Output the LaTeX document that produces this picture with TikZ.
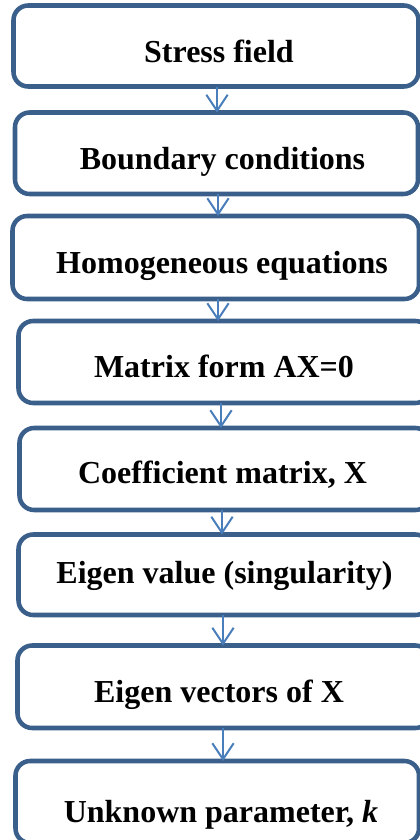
\documentclass[tikz,border=0pt]{standalone}
\usepackage{fontspec}
\setmainfont{Liberation Serif}
\usetikzlibrary{arrows.meta}
\definecolor{boxblue}{HTML}{3A5F8B}
\definecolor{arrblue}{HTML}{4A7EBB}
\tikzset{
  stepbox/.style={draw=boxblue, line width=3.4pt, rounded corners=11pt, fill=white,
    rectangle, inner sep=0pt, outer sep=0pt},
  steptext/.style={anchor=base, inner sep=0pt, font=\fontsize{24}{28}\selectfont\bfseries},
  flow/.style={draw=arrblue, line width=1.5pt, -{Straight Barb[length=12pt,width=16pt,line width=1.5pt]}}
}
\begin{document}
\begin{tikzpicture}[x=0.75pt,y=-0.75pt]
\useasboundingbox (0,0) rectangle (420,840);
\clip (0,0) rectangle (420,840);
\fill[white] (0,0) rectangle (420,840);
% boxes
\node[stepbox, minimum width=405*0.75pt,   minimum height=81*0.75pt]   (b1) at (216,46) {};
\node[stepbox, minimum width=403*0.75pt,   minimum height=81.5*0.75pt] (b2) at (216.5,153.25) {};
\node[stepbox, minimum width=406.5*0.75pt, minimum height=83*0.75pt]   (b3) at (215.75,257.5) {};
\node[stepbox, minimum width=411.5*0.75pt, minimum height=82*0.75pt]   (b4) at (224.25,362) {};
\node[stepbox, minimum width=410.5*0.75pt, minimum height=82*0.75pt]   (b5) at (224.75,469) {};
\node[stepbox, minimum width=411.5*0.75pt, minimum height=80.5*0.75pt] (b6) at (224.25,574.75) {};
\node[stepbox, minimum width=412.5*0.75pt, minimum height=82.5*0.75pt] (b7) at (223.75,686.75) {};
\node[stepbox, minimum width=403.5*0.75pt, minimum height=82*0.75pt]   (b8) at (217.25,802) {};
% texts
\node[steptext] (t1) at (219,62)    {Stress field};
\node[steptext] (t2) at (222.5,169) {Boundary conditions};
\node[steptext] (t3) at (222,273)   {Homogeneous equations};
\node[steptext] (t4) at (224,377)   {Matrix form AX=0};
\node[steptext] (t5) at (222.5,483) {Coefficient matrix, X};
\node[steptext] (t6) at (224.5,583) {Eigen value (singularity)};
\node[steptext] (t7) at (219,702)   {Eigen vectors of X};
\node[steptext] (t8) at (221,822)   {Unknown parameter, \textit{k}};
% connectors
\draw[flow] (b1.south -| 217,0) -- (b2.north -| 217,0);
\draw[flow] (b2.south -| 218,0) -- (b3.north -| 218,0);
\draw[flow] (b3.south -| 218,0) -- (b4.north -| 218,0);
\draw[flow] (b4.south -| 221,0) -- (b5.north -| 221,0);
\draw[flow] (b5.south -| 222,0) -- (b6.north -| 222,0);
\draw[flow] (b6.south -| 223,0) -- (b7.north -| 223,0);
\draw[flow] (b7.south -| 223,0) -- (b8.north -| 223,0);
\end{tikzpicture}
\end{document}
